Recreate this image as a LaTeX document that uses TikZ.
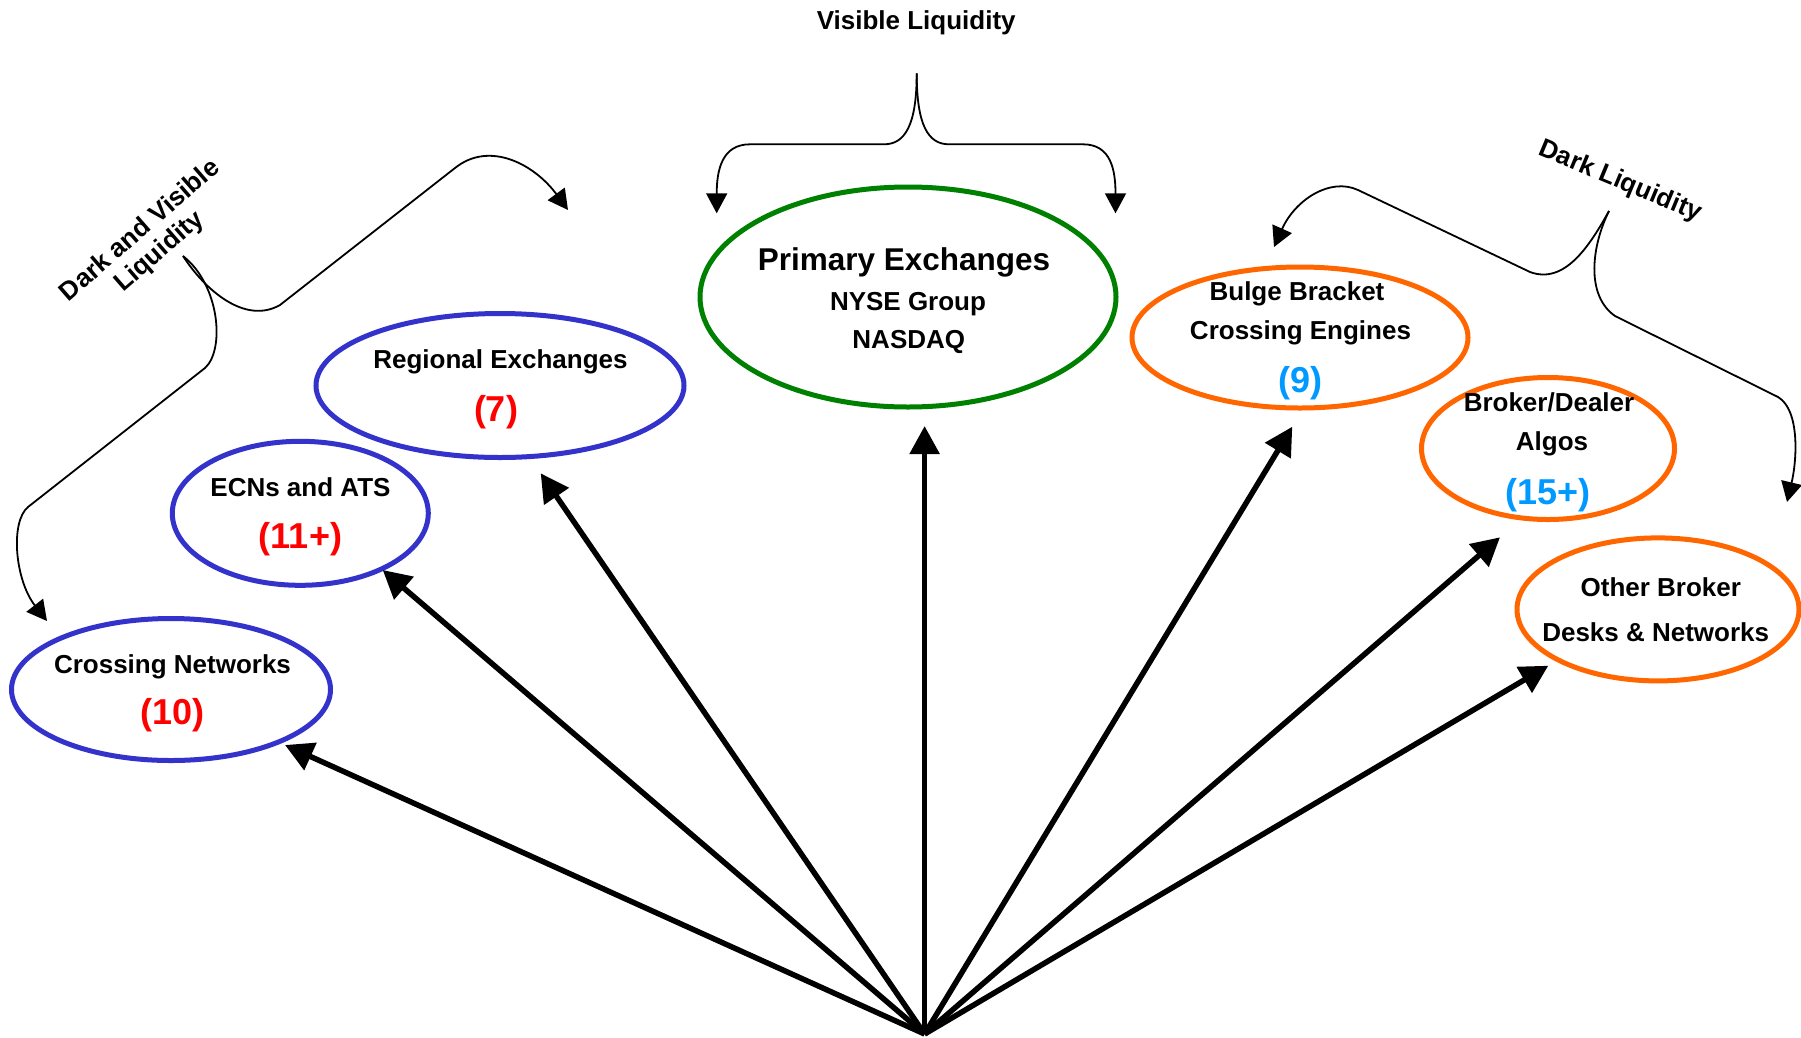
\documentclass[tikz,border=0pt]{standalone}
\usepackage{fontspec}
\setmainfont{Liberation Sans}
\usetikzlibrary{shapes.geometric,arrows.meta}
\definecolor{ellblue}{RGB}{51,51,204}
\definecolor{ellgreen}{RGB}{0,128,0}
\definecolor{ellorange}{RGB}{255,102,0}
\definecolor{numred}{RGB}{255,0,0}
\definecolor{numblue}{RGB}{0,153,255}
\tikzset{
  ell/.style={ellipse, draw=#1, line width=5pt, inner sep=0pt},
  lbl/.style={font=\bfseries\fontsize{26}{30}\selectfont, anchor=base, inner sep=0pt},
  bigtitle/.style={font=\bfseries\fontsize{31.5}{36}\selectfont, anchor=base, inner sep=0pt},
  numlbl/.style={font=\bfseries\fontsize{36}{40}\selectfont, anchor=base, inner sep=0pt, text=#1},
  bigarrow/.style={line width=5.5pt, -{Triangle[length=28pt,width=29pt]}},
  thinarrow/.style={line width=1.8pt, line join=round, -{Triangle[length=20pt,width=21pt]}},
  rotlbl/.style={font=\bfseries\fontsize{26}{34}\selectfont, inner sep=0pt},
}
\begin{document}
\begin{tikzpicture}[x=1pt,y=-1pt]
\useasboundingbox (0,0) rectangle (1801,1037);

% ellipses
\node[ell=ellblue, minimum width=319pt, minimum height=142pt] (cn) at (171,689.5) {};
\node[ell=ellblue, minimum width=256pt, minimum height=144pt] (ecn) at (300.3,513.3) {};
\node[ell=ellblue, minimum width=368pt, minimum height=144pt] (reg) at (500,385.5) {};
\node[ell=ellgreen, minimum width=416pt, minimum height=220pt] (pri) at (908,297) {};
\node[ell=ellorange, minimum width=336pt, minimum height=141pt] (bb) at (1300,337.5) {};
\node[ell=ellorange, minimum width=253pt, minimum height=142pt] (bd) at (1548,448.5) {};
\node[ell=ellorange, minimum width=282pt, minimum height=143pt] (ob) at (1658,609.4) {};

% texts
\node[lbl] (cnt) at (172.5,673.3) {Crossing Networks};
\node[numlbl=numred] (cnn) at (172.5,724) {(10)};
\node[lbl] (ecnt) at (300.5,496.7) {ECNs and ATS};
\node[numlbl=numred] (ecnn) at (300.5,548.3) {(11+)};
\node[lbl] (regt) at (500.5,368.3) {Regional Exchanges};
\node[numlbl=numred] (regn) at (496,421) {(7)};
\node[bigtitle] (prit) at (904,270.7) {Primary Exchanges};
\node[lbl] (pri2) at (908,310) {NYSE Group};
\node[lbl] (pri3) at (908.8,348.3) {NASDAQ};
\node[lbl] (bbt1) at (1297,300.7) {Bulge Bracket};
\node[lbl] (bbt2) at (1300.5,339.3) {Crossing Engines};
\node[numlbl=numblue] (bbn) at (1300.3,392) {(9)};
\node[lbl] (bdt1) at (1549,411.7) {Broker/Dealer};
\node[lbl] (bdt2) at (1552,450) {Algos};
\node[numlbl=numblue] (bdn) at (1548,504) {(15+)};
\node[lbl] (obt1) at (1660.8,596.7) {Other Broker};
\node[lbl] (obt2) at (1655.7,641.7) {Desks \& Networks};

% fan of arrows
\coordinate (O) at (924.6,1034);
\coordinate (tcn) at (285,745);
\coordinate (tecn) at (382.7,570);
\coordinate (treg) at (540.7,473.3);
\coordinate (tpri) at (924.6,426);
\coordinate (tbb) at (1292.3,426.7);
\coordinate (tbd) at (1500,537.3);
\coordinate (tob) at (1548.3,665.7);
\foreach \t in {tcn,tecn,treg,tpri,tbb,tbd,tob}
  \draw[bigarrow] (O) -- (\t);

% Visible Liquidity brace
\node[lbl] (vis) at (916.2,29.3) {Visible Liquidity};
\coordinate (vtip) at (916.7,73.3);
\coordinate (vl) at (716.7,213.3);
\coordinate (vr) at (1115.5,213.3);
\draw[thinarrow] (vtip) .. controls (916.7,125) and (905,144.3) .. (884,144.3)
  -- (750,144.3) .. controls (722,144.3) and (716.7,170) .. (vl);
\draw[thinarrow] (vtip) .. controls (916.7,125) and (928,144.3) .. (949,144.3)
  -- (1083,144.3) .. controls (1111,144.3) and (1115.5,170) .. (vr);

% Dark and Visible Liquidity brace
\node[rotlbl, rotate=41] (dvl1) at (139,229) {Dark and Visible};
\node[rotlbl, rotate=41] (dvl2) at (160,252) {Liquidity};
\coordinate (dv) at (183,256);
\coordinate (dva) at (568,210);
\coordinate (dvb) at (47,621);
\draw[thinarrow] (dv) .. controls (205,290) and (245,325) .. (280,305)
  -- (455,168) .. controls (490,140) and (535,165) .. (dva);
\draw[thinarrow] (dv) .. controls (220,285) and (225,350) .. (205,368)
  -- (28,507) .. controls (10,522) and (15,580) .. (dvb);

% Dark Liquidity brace
\node[rotlbl, rotate=-22.6] (dkl) at (1620,181.7) {Dark Liquidity};
\coordinate (dl) at (1609,211);
\coordinate (dla) at (1274,247);
\coordinate (dlb) at (1787,502);
\draw[thinarrow] (dl) .. controls (1590,245) and (1565,285) .. (1530,272)
  -- (1358,190) .. controls (1330,177) and (1295,200) .. (dla);
\draw[thinarrow] (dl) .. controls (1592,245) and (1585,295) .. (1615,316)
  -- (1778,397) .. controls (1800,410) and (1797,460) .. (dlb);
\end{tikzpicture}
\end{document}
